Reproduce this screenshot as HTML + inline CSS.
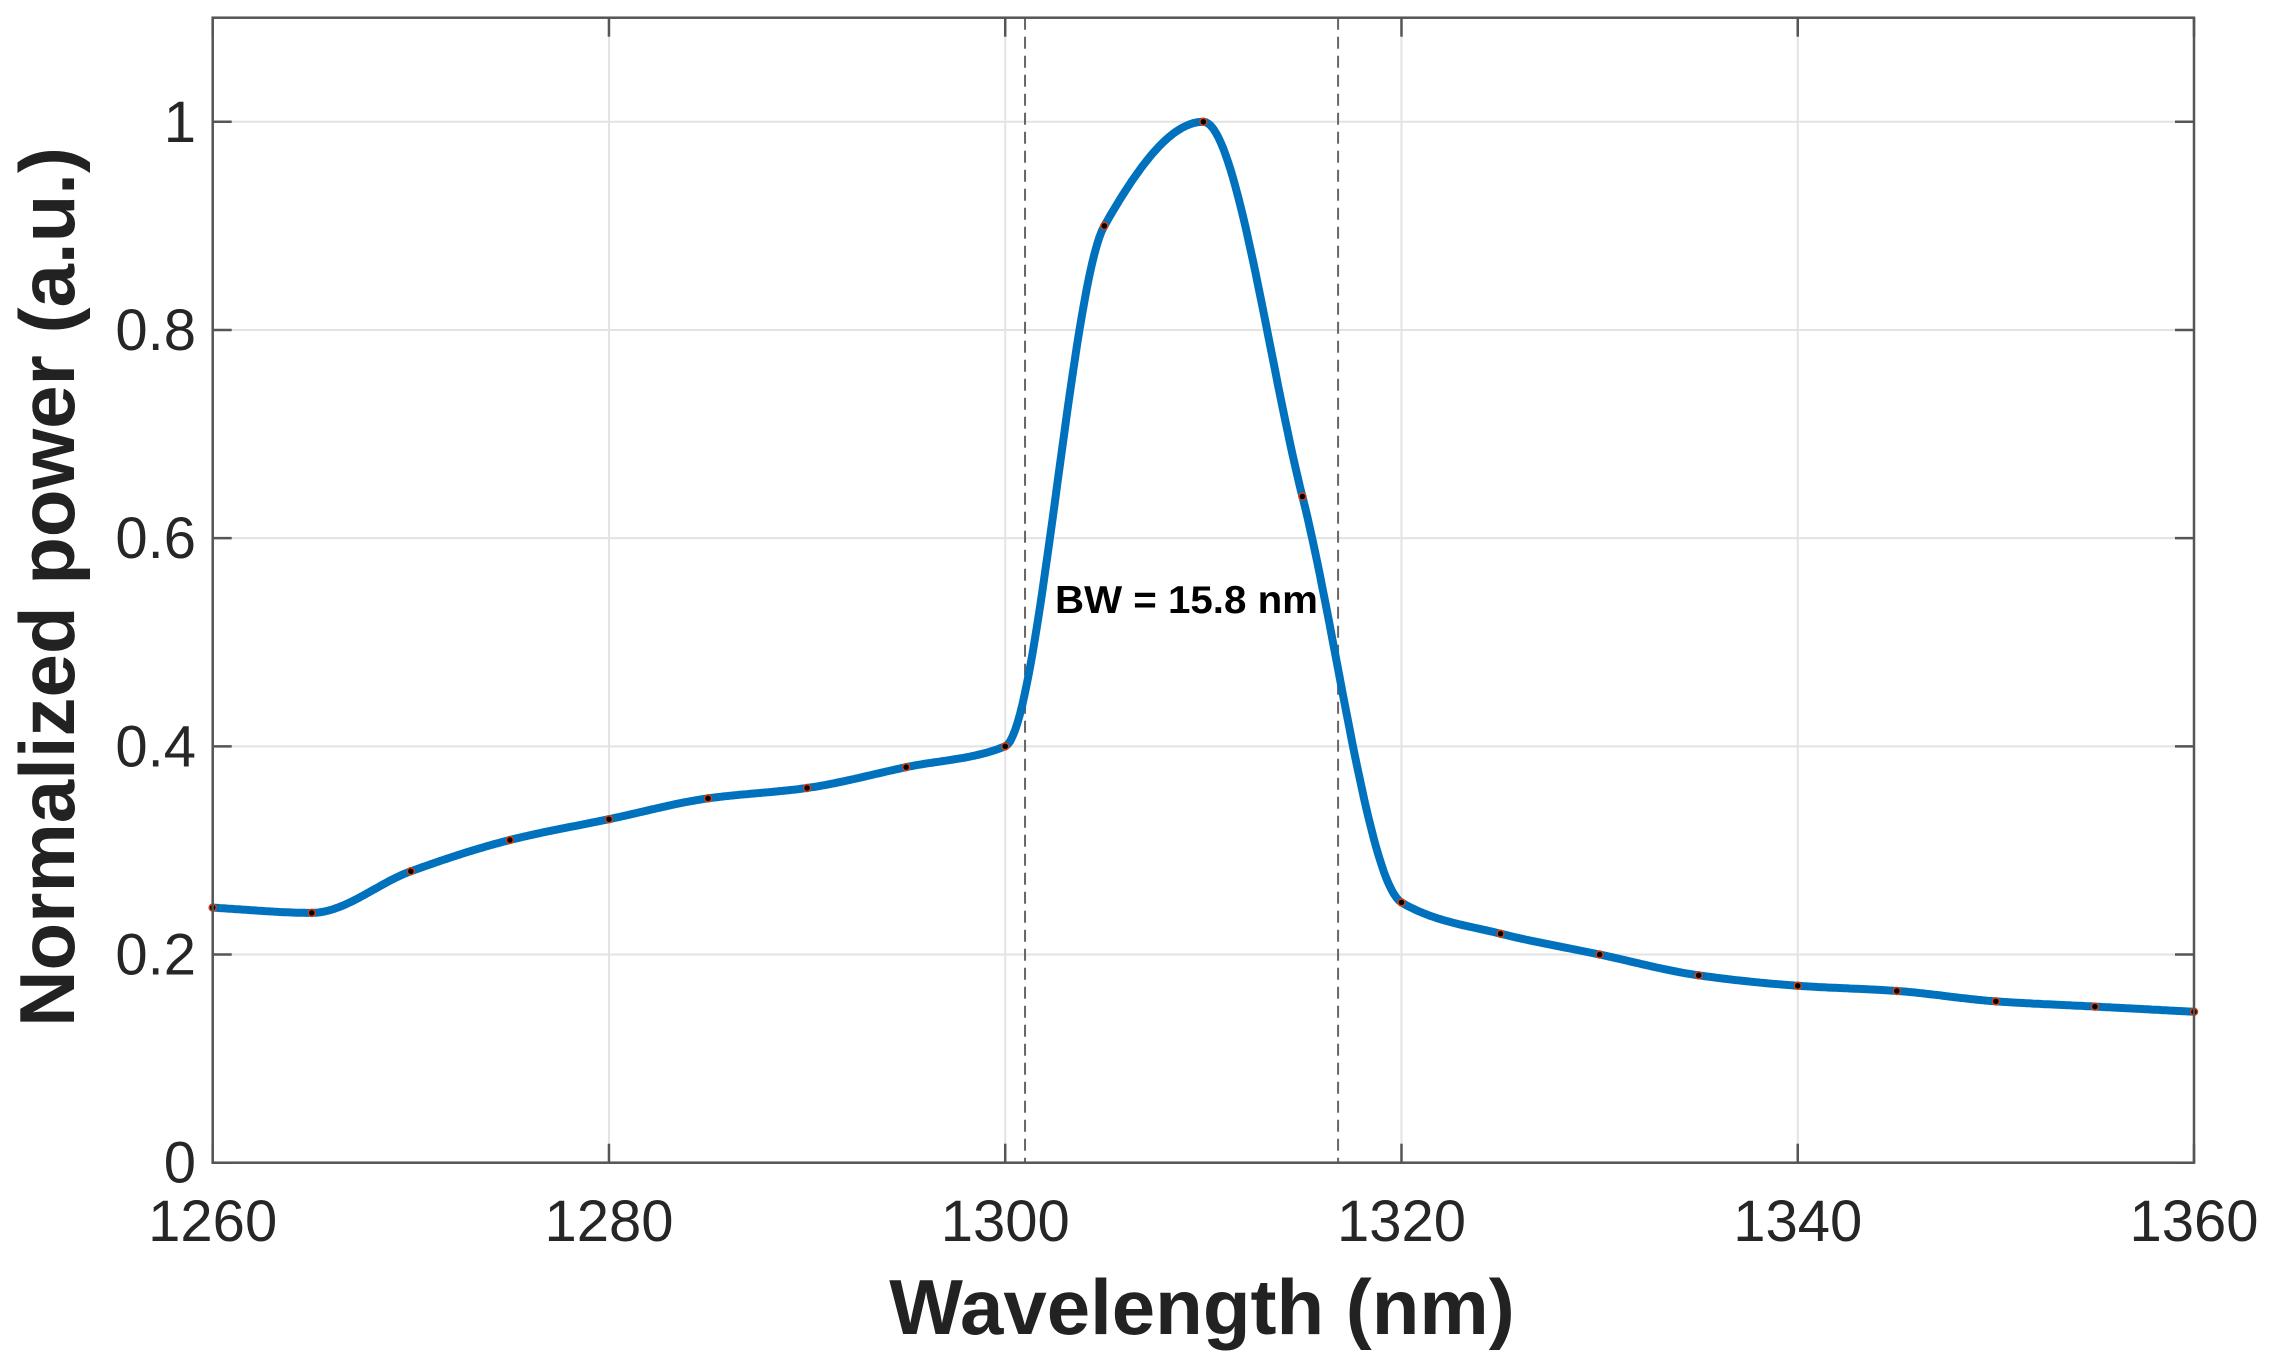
<!DOCTYPE html>
<html><head><meta charset="utf-8">
<style>html,body{margin:0;padding:0;background:#fff;}svg{display:block;}</style>
</head><body>
<svg id="chart" width="2271" height="1371" viewBox="0 0 2271 1371" xmlns="http://www.w3.org/2000/svg" font-family="'Liberation Sans', Arial, sans-serif"></svg>
<script>
const wavelengths = [1260,1265,1270,1275,1280,1285,1290,1295,1300,1305,1310,1315,1320,1325,1330,1335,1340,1345,1350,1355,1360];
const powers = [0.245,0.24,0.28,0.31,0.33,0.35,0.36,0.38,0.40,0.90,1.0,0.64,0.25,0.22,0.20,0.18,0.17,0.165,0.155,0.15,0.145];
const xTicks = [1260,1280,1300,1320,1340,1360];
const yTicks = [0,0.2,0.4,0.6,0.8,1];
const yTickLabels = ['0','0.2','0.4','0.6','0.8','1'];
const bwEdges = [1301,1316.8];
const bwLabel = 'BW = 15.8 nm';

const L=212.7,R=2194,T=17.7,B=1162.7;
const xMin=1260,xMax=1360,yMin=0,yMax=1.1;
const sx=v=>L+(v-xMin)/(xMax-xMin)*(R-L);
const sy=v=>B-(v-yMin)/(yMax-yMin)*(B-T);
const svg=document.getElementById('chart');
const NS='http://www.w3.org/2000/svg';
function mk(tag,attrs,parent){const e=document.createElementNS(NS,tag);for(const k in attrs)e.setAttribute(k,attrs[k]);(parent||svg).appendChild(e);return e;}

const grid=mk('g',{});


xTicks.forEach(t=>{const l=mk('line',{x1:sx(t),x2:sx(t),y1:T,y2:B,stroke:'#e3e3e3','stroke-width':2},grid);

});
yTicks.forEach(t=>{const l=mk('line',{x1:L,x2:R,y1:sy(t),y2:sy(t),stroke:'#e3e3e3','stroke-width':2},grid);

});

bwEdges.forEach(w=>{const l=mk('line',{x1:sx(w),x2:sx(w),y1:T,y2:B,stroke:'#666','stroke-width':2,'stroke-dasharray':'12,7'});

});

function pchip(xs,ys){const n=xs.length,h=[],d=[],m=new Array(n);
for(let i=0;i<n-1;i++){h[i]=xs[i+1]-xs[i];d[i]=(ys[i+1]-ys[i])/h[i];}
for(let i=1;i<n-1;i++){if(d[i-1]*d[i]<=0)m[i]=0;else{const w1=2*h[i]+h[i-1],w2=h[i]+2*h[i-1];m[i]=(w1+w2)/(w1/d[i-1]+w2/d[i]);}}
m[0]=d[0];m[n-1]=d[n-2];
const pts=[];
for(let i=0;i<n-1;i++){for(let k=0;k<40;k++){const t=k/40,hh=h[i];
const h00=2*t*t*t-3*t*t+1,h10=t*t*t-2*t*t+t,h01=-2*t*t*t+3*t*t,h11=t*t*t-t*t;
pts.push([xs[i]+t*hh,h00*ys[i]+h10*hh*m[i]+h01*ys[i+1]+h11*hh*m[i+1]]);}}
pts.push([xs[n-1],ys[n-1]]);return pts;}
const pts=pchip(wavelengths,powers);
const line=mk('path',{d:'M'+pts.map(p=>sx(p[0]).toFixed(1)+','+sy(p[1]).toFixed(1)).join('L'),fill:'none',stroke:'#0072BD','stroke-width':8,'stroke-linejoin':'round'});


wavelengths.forEach((w,i)=>{const c=mk('circle',{cx:sx(w),cy:sy(powers[i]),r:3.5,fill:'#000',stroke:'#d04010','stroke-width':1.5});

});

const box=mk('rect',{x:L,y:T,width:R-L,height:B-T,fill:'none',stroke:'#555','stroke-width':2.5});


xTicks.forEach(t=>{mk('line',{x1:sx(t),x2:sx(t),y1:B,y2:B-19,stroke:'#555','stroke-width':2.5});mk('line',{x1:sx(t),x2:sx(t),y1:T,y2:T+19,stroke:'#555','stroke-width':2.5});
const tx=mk('text',{x:sx(t),y:1241,'font-size':58,'text-anchor':'middle',fill:'#262626'});tx.textContent=t;

});
yTicks.forEach((t,i)=>{mk('line',{x1:L,x2:L+19,y1:sy(t),y2:sy(t),stroke:'#555','stroke-width':2.5});mk('line',{x1:R,x2:R-19,y1:sy(t),y2:sy(t),stroke:'#555','stroke-width':2.5});
const tx=mk('text',{x:196,y:sy(t)+20,'font-size':58,'text-anchor':'end',fill:'#262626'});tx.textContent=yTickLabels[i];

});

const xt=mk('text',{x:1202,y:1334,'font-size':78,'font-weight':'bold','text-anchor':'middle',fill:'#222'});
xt.textContent='Wavelength (nm)';


const yt=mk('text',{x:0,y:0,'font-size':78,'font-weight':'bold','text-anchor':'middle',fill:'#222',transform:'translate(74,587) rotate(-90)'});
yt.textContent='Normalized power (a.u.)';


const bw=mk('text',{x:1055,y:613,'font-size':39,'font-weight':'bold',fill:'#000',textLength:263,lengthAdjust:'spacingAndGlyphs'});
bw.textContent=bwLabel;


</script>
</body></html>
